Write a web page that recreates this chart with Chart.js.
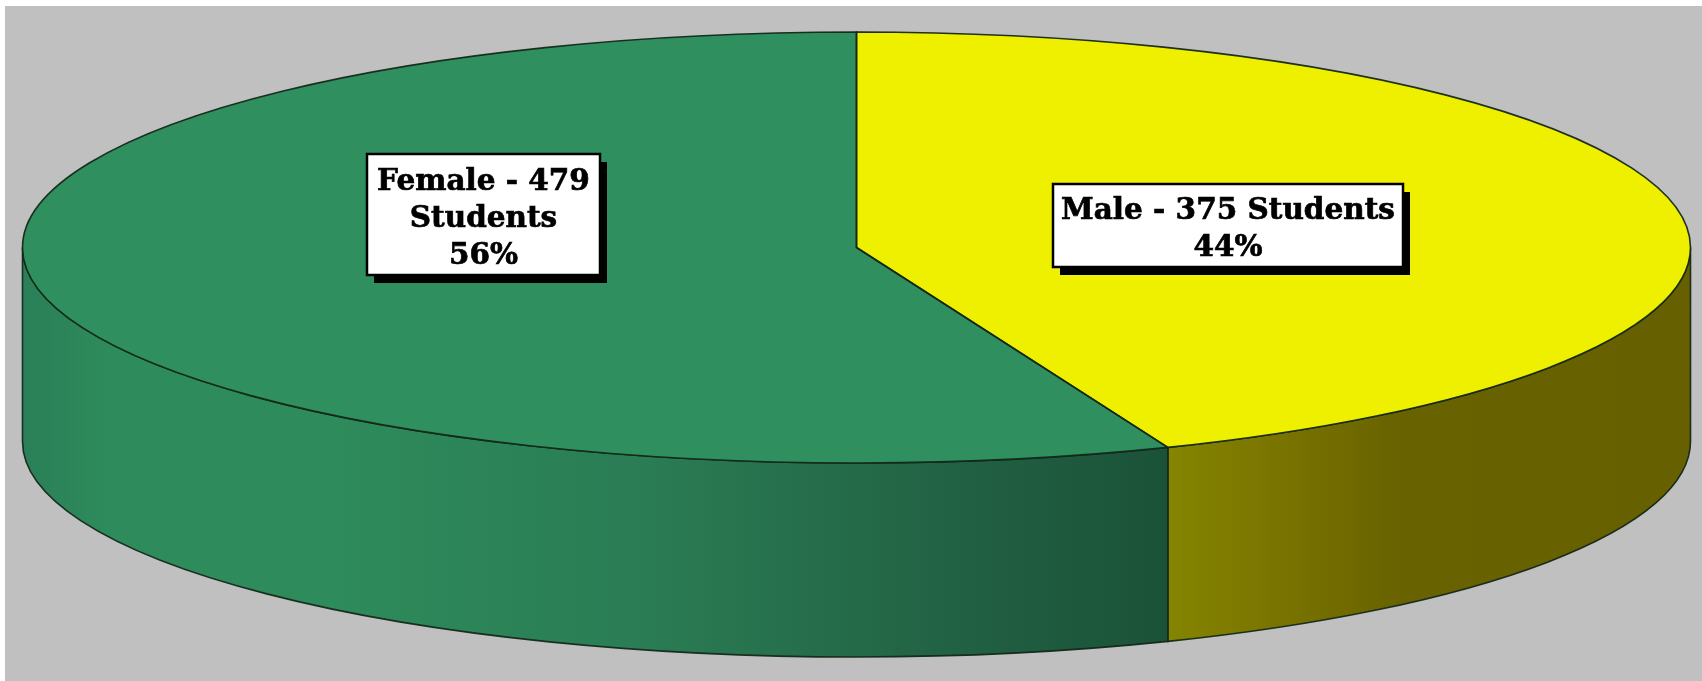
<!DOCTYPE html>
<html>
<head>
<meta charset="utf-8">
<title>Students by gender</title>
<style>
  html, body { margin: 0; padding: 0; background: #fff; overflow: hidden; }
  canvas { display: block; }
</style>
<script src="https://cdn.jsdelivr.net/npm/chart.js@4"></script>
</head>
<body>
<canvas id="myChart" width="1702" height="681"></canvas>
<script>
const categories = ['Male', 'Female'];
const students = [375, 479];
const labelLines = [
  ['Male - 375 Students', '44%'],
  ['Female - 479', 'Students', '56%']
];

const topColors = ['#efef00', '#2f8f5e'];
const sideStops = [
  [[1167, '#858500'], [1290, '#787200'], [1400, '#686200'], [1690, '#666000']],
  [[22, '#2a7f58'], [110, '#2e8b5b'], [330, '#2e8b5b'], [650, '#2a7c54'], [980, '#215f42'], [1167, '#1a5238']]
];
const labelBoxes = [
  { x: 1053, y: 184, w: 350, h: 83, lineY: [211, 248] },
  { x: 367, y: 154, w: 233, h: 121, lineY: [182, 219, 256] }
];

// ellipse of the pie top, and height of the wall under it
const pie = { cx: 856.5, cy: 247.5, rx: 834, ry: 215.5, depth: 194 };
const edgeColor = 'rgba(20, 40, 25, 0.95)';

function sidePath(ctx, a0, a1) {
  ctx.beginPath();
  ctx.ellipse(pie.cx, pie.cy, pie.rx, pie.ry, 0, a0, a1);
  ctx.ellipse(pie.cx, pie.cy + pie.depth, pie.rx, pie.ry, 0, a1, a0, true);
  ctx.closePath();
}

const pie3d = {
  id: 'pie3d',
  beforeDraw(chart) {
    const ctx = chart.ctx;
    ctx.fillStyle = '#c0c0c0';
    ctx.fillRect(5, 6, chart.width - 5, chart.height - 6);
  },
  beforeDatasetsDraw(chart) {
    const ctx = chart.ctx;
    const arcs = chart.getDatasetMeta(0).data;

    // walls, only for the part of each slice that faces the viewer
    arcs.forEach((arc, i) => {
      const a0 = Math.max(arc.startAngle, 0);
      const a1 = Math.min(arc.endAngle, Math.PI);
      if (a1 <= a0) return;
      const grad = ctx.createLinearGradient(0, 0, chart.width, 0);
      sideStops[i].forEach(s => grad.addColorStop(s[0] / chart.width, s[1]));
      sidePath(ctx, a0, a1);
      ctx.fillStyle = grad;
      ctx.fill();
      ctx.strokeStyle = edgeColor;
      ctx.lineWidth = 1.6;
      ctx.stroke();
    });

    // squash the round pie into the top ellipse
    const first = arcs[0];
    ctx.save();
    ctx.translate(pie.cx, pie.cy);
    ctx.scale(pie.rx / first.outerRadius, pie.ry / first.outerRadius);
    ctx.translate(-first.x, -first.y);
  },
  afterDatasetsDraw(chart) {
    const ctx = chart.ctx;
    ctx.restore();

    chart.getDatasetMeta(0).data.forEach(arc => {
      ctx.beginPath();
      ctx.moveTo(pie.cx, pie.cy);
      ctx.ellipse(pie.cx, pie.cy, pie.rx, pie.ry, 0, arc.startAngle, arc.endAngle);
      ctx.closePath();
      ctx.strokeStyle = edgeColor;
      ctx.lineWidth = 1.6;
      ctx.stroke();
    });

    labelBoxes.forEach((box, i) => {
      ctx.fillStyle = '#000';
      ctx.fillRect(box.x + 7, box.y + 8, box.w, box.h);
      ctx.fillStyle = '#fff';
      ctx.fillRect(box.x, box.y, box.w, box.h);
      ctx.strokeStyle = '#000';
      ctx.lineWidth = 2.5;
      ctx.strokeRect(box.x, box.y, box.w, box.h);

      ctx.fillStyle = '#000';
      ctx.font = 'bold 29.5px "DejaVu Serif"';
      ctx.textAlign = 'center';
      ctx.textBaseline = 'middle';
      ctx.lineWidth = 0.7;
      labelLines[i].forEach((line, j) => {
        ctx.fillText(line, box.x + box.w / 2, box.lineY[j]);
        ctx.strokeText(line, box.x + box.w / 2, box.lineY[j]);
      });
    });
  }
};

new Chart(document.getElementById('myChart'), {
  type: 'pie',
  data: {
    labels: categories,
    datasets: [{
      data: students,
      backgroundColor: topColors,
      borderWidth: 0,
      clip: false
    }]
  },
  options: {
    responsive: false,
    animation: false,
    plugins: {
      legend: { display: false },
      tooltip: { enabled: false }
    }
  },
  plugins: [pie3d]
});
</script>
</body>
</html>
